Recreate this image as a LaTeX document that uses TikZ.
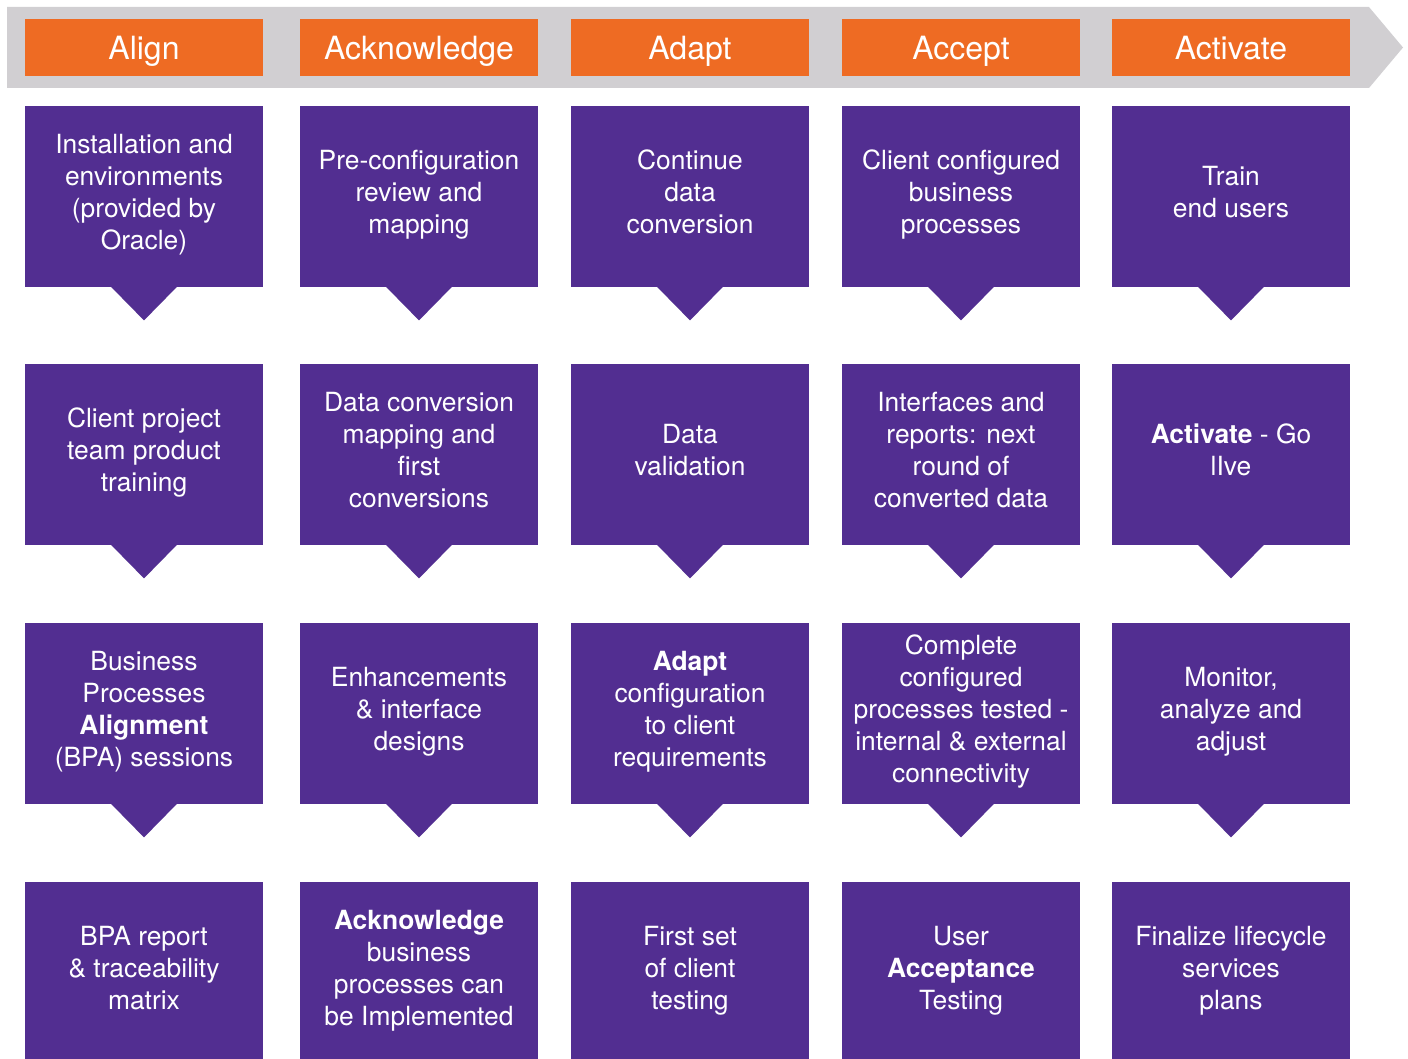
\documentclass[tikz,border=0pt]{standalone}
\usepackage{fontspec}
\setmainfont{TeX Gyre Heros}
\usepackage{tikz}
\usepackage{xcolor}
\definecolor{phaseorange}{RGB}{238,107,35}
\definecolor{taskpurple}{RGB}{82,46,145}
\definecolor{bannergrey}{RGB}{209,207,210}
\tikzset{
  phase/.style={fill=phaseorange, text=white, minimum width=119pt, minimum height=28.5pt,
    inner sep=0pt, text height=13.5pt, text depth=1pt, font=\fontsize{16}{19}\selectfont},
  task/.style={fill=taskpurple, text=white, minimum width=119pt, minimum height=90.5pt,
    inner sep=0pt, align=center, font=\fontsize{13.2}{16}\selectfont,
    execute at begin node={\rule{0pt}{11pt}},
    execute at end node={\rule[-5pt]{0pt}{5pt}}}
}

\begin{document}
\begin{tikzpicture}[x=0.5pt, y=-0.5pt]
\useasboundingbox (0,0) rectangle (1408,1059);
\fill [bannergrey] (7,7) -- (1369,7) -- (1403,47.5) -- (1369,88) -- (7,88) -- cycle;
\node [phase] (align) at (144,47.5) {Align};
\node [phase] (ack) at (419,47.5) {Acknowledge};
\node [phase] (adapt) at (690,47.5) {Adapt};
\node [phase] (accept) at (961,47.5) {Accept};
\node [phase] (activ) at (1231,47.5) {Activate};
% Align
\node [task] (align1) at (144,196.5) {Installation and\\environments\\(provided by\\Oracle)};
\node [task] (align2) at (144,454.5) {Client project\\team product\\training};
\node [task] (align3) at (144,713.5) {Business\\Processes\\\textbf{Alignment}\\(BPA) sessions};
\node [task] (align4) at (144,972.5) {BPA report\\\& traceability\\matrix};
% Acknowledge
\node [task] (ack1) at (419,196.5) {Pre-configuration\\review and\\mapping};
\node [task] (ack2) at (419,454.5) {Data conversion\\mapping and\\first\\conversions};
\node [task] (ack3) at (419,713.5) {Enhancements\\\& interface\\designs};
\node [task] (ack4) at (419,972.5) {\textbf{Acknowledge}\\business\\processes can\\be Implemented};
% Adapt
\node [task] (adapt1) at (690,196.5) {Continue\\data\\conversion};
\node [task] (adapt2) at (690,454.5) {Data\\validation};
\node [task] (adapt3) at (690,713.5) {\textbf{Adapt}\\configuration\\to client\\requirements};
\node [task] (adapt4) at (690,972.5) {First set\\of client\\testing};
% Accept
\node [task] (accept1) at (961,196.5) {Client configured\\business\\processes};
\node [task] (accept2) at (961,454.5) {Interfaces and\\reports: next\\round of\\converted data};
\node [task] (accept3) at (961,713.5) {Complete\\configured\\processes tested -\\internal \& external\\connectivity};
\node [task] (accept4) at (961,972.5) {User\\\textbf{Acceptance}\\Testing};
% Activate
\node [task] (activ1) at (1231,196.5) {Train\\end users};
\node [task] (activ2) at (1231,454.5) {\textbf{Activate} - Go\\lIve};
\node [task] (activ3) at (1231,713.5) {Monitor,\\analyze and\\adjust};
\node [task] (activ4) at (1231,972.5) {Finalize lifecycle\\services\\plans};
% pointers
\foreach \n in {align1,align2,align3,ack1,ack2,ack3,adapt1,adapt2,adapt3,accept1,accept2,accept3,activ1,activ2,activ3}
  \fill [taskpurple] ([xshift=-16.5pt,yshift=0.3pt]\n.south) -- ([yshift=-16.5pt]\n.south) -- ([xshift=16.5pt,yshift=0.3pt]\n.south) -- cycle;
\end{tikzpicture}
\end{document}
